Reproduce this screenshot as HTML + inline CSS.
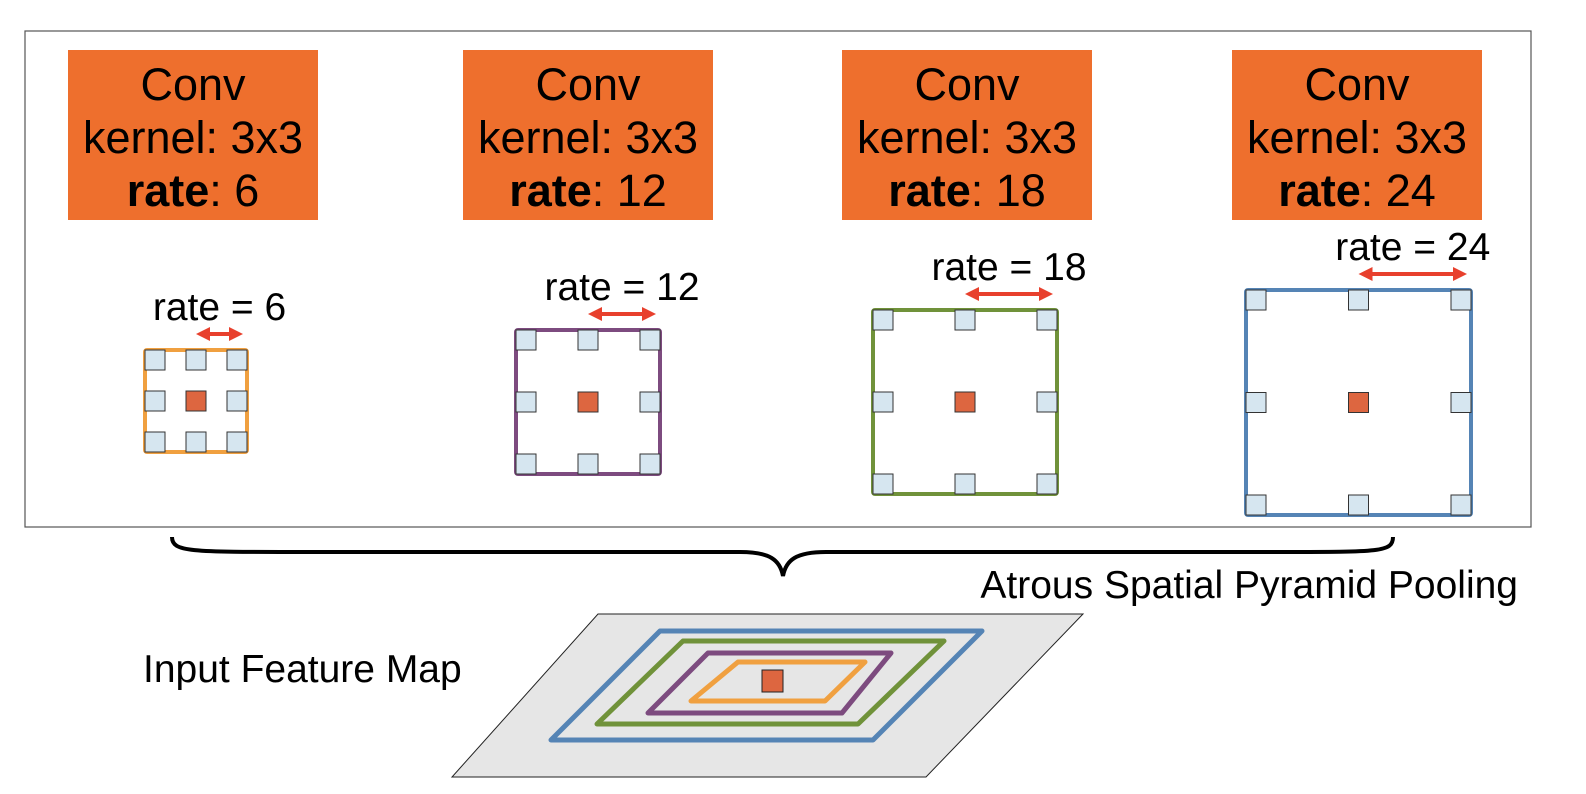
<!DOCTYPE html>
<html><head><meta charset="utf-8"><style>
html,body{margin:0;padding:0;background:#fff}
svg{display:block;font-family:"Liberation Sans",sans-serif}
</style></head><body>
<svg id="s" width="1586" height="794" viewBox="0 0 1586 794">
<rect x="25" y="31" width="1506" height="496" fill="none" stroke="#555" stroke-width="1.2"/>
<g id="boxes"></g>
<g id="kernels"></g>
<path d="M172,537 C172,552 190,552 300,552 L740,552 C770,552 780,560 783,576 C786,560 796,552 826,552 L1280,552 C1380,552 1393,552 1393,537" fill="none" stroke="#000" stroke-width="4"/>
<text x="1518" y="598" text-anchor="end" font-size="39">Atrous Spatial Pyramid Pooling</text>
<text x="143" y="682" font-size="39">Input Feature Map</text>
<g>
<polygon points="598,614 1083,614 926,777 452,777" fill="#e6e6e6" stroke="#222" stroke-width="1"/>
<polygon points="660,631 982,631 873,740 551,740" fill="none" stroke="#5584b5" stroke-width="5" stroke-linejoin="round"/>
<polygon points="683,641 944,641 858,724 597,724" fill="none" stroke="#70923a" stroke-width="5" stroke-linejoin="round"/>
<polygon points="708,653 891,653 842,713 648,713" fill="none" stroke="#7d4b7f" stroke-width="5" stroke-linejoin="round"/>
<polygon points="738,662 865,662 825,701 691,701" fill="none" stroke="#f0a040" stroke-width="5" stroke-linejoin="round"/>
<rect x="762" y="670" width="21" height="22" fill="#dd6640" stroke="#222" stroke-width="1"/>
</g>
</svg>
<script>
const rates=[6,12,18,24];
const boxX=[68,463,842,1232];
const frames=[[145,350,102],[516,330,144],[873,310,184],[1246,290,225]];
const colors=['#f0a040','#7d4b7f','#70923a','#5584b5'];
const NS='http://www.w3.org/2000/svg';
function mk(tag,attrs,parent){const e=document.createElementNS(NS,tag);for(const k in attrs)e.setAttribute(k,attrs[k]);parent.appendChild(e);return e;}
const B=document.getElementById('boxes'),K=document.getElementById('kernels');
rates.forEach((r,i)=>{
  const g=mk('g',{},B);
  
  
  const x=boxX[i];
  mk('rect',{x:x,y:50,width:250,height:170,fill:'#ee6f2d'},g);
  const cx=x+125;
  let t=mk('text',{x:cx,y:100,'text-anchor':'middle','font-size':45},g);t.textContent='Conv';
  t=mk('text',{x:cx,y:153,'text-anchor':'middle','font-size':45},g);t.textContent='kernel: 3x3';
  t=mk('text',{x:cx,y:206,'text-anchor':'middle','font-size':45},g);
  const b=mk('tspan',{'font-weight':'bold'},t);b.textContent='rate';
  const s=mk('tspan',{},t);s.textContent=': '+r;
  const [fx,fy,fs]=frames[i];
  const kg=mk('g',{},K);
  
  
  mk('rect',{x:fx,y:fy,width:fs,height:fs,fill:'#fff',stroke:colors[i],'stroke-width':4,rx:2},kg);
  const q=20;
  for(let a=0;a<3;a++)for(let c=0;c<3;c++){
    const px=fx+10+a*(fs-20)/2, py=fy+10+c*(fs-20)/2;
    const center=a==1&&c==1;
    mk('rect',{x:px-q/2,y:py-q/2,width:q,height:q,fill:center?'#dd6640':'#d6e6f0',stroke:'#333','stroke-width':1},kg);
  }
  const ax1=fx+10+(fs-20)/2, ax2=fx+fs-4, ay=fy-16;
  mk('line',{x1:ax1+12,y1:ay,x2:ax2-12,y2:ay,stroke:'#e8402d','stroke-width':4},kg);
  mk('polygon',{points:`${ax1},${ay} ${ax1+14},${ay-7} ${ax1+14},${ay+7}`,fill:'#e8402d'},kg);
  mk('polygon',{points:`${ax2},${ay} ${ax2-14},${ay-7} ${ax2-14},${ay+7}`,fill:'#e8402d'},kg);
  const lt=mk('text',{x:(ax1+ax2)/2,y:ay-14,'text-anchor':'middle','font-size':39},kg);
  lt.textContent='rate = '+r;
});
</script>
</body></html>
